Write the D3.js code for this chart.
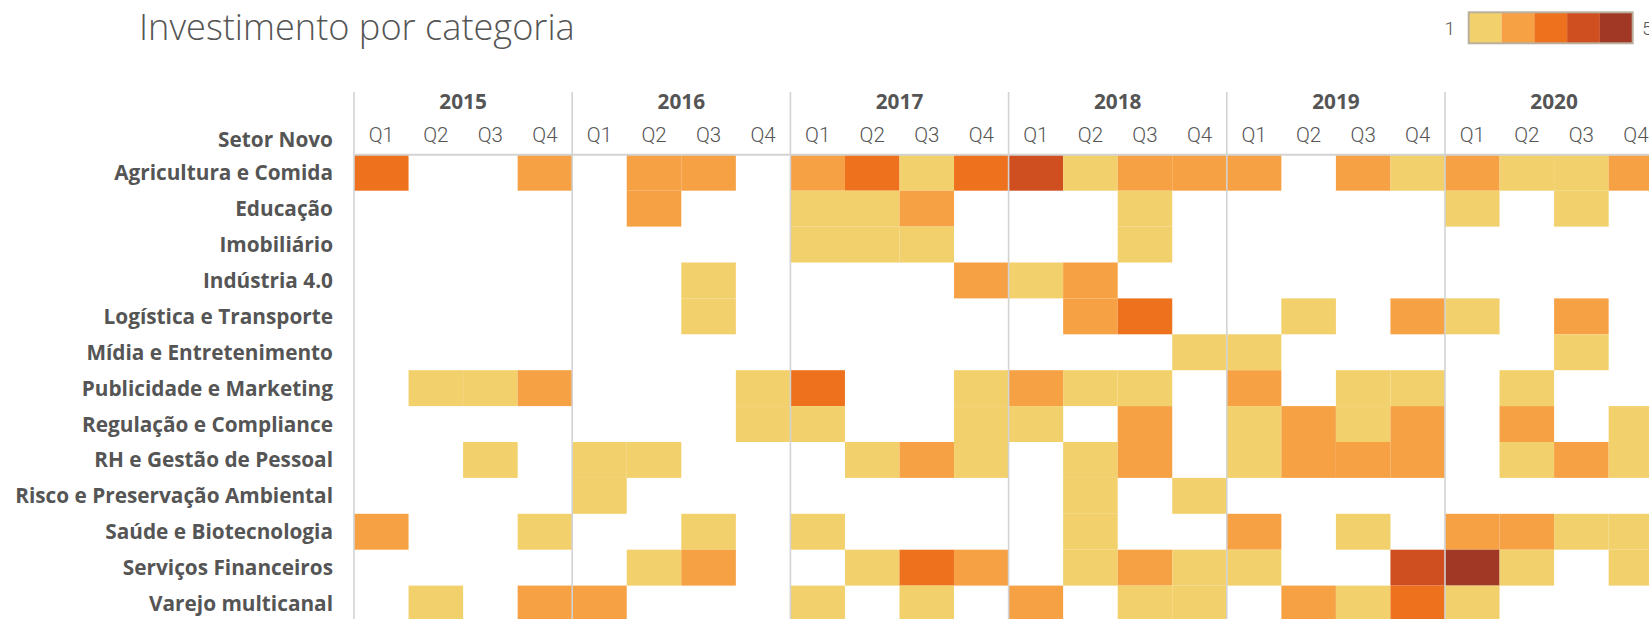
<!DOCTYPE html>
<html><head><meta charset="utf-8">
<script src="https://cdn.jsdelivr.net/npm/d3@7"></script>
<style>
html,body{margin:0;padding:0;background:#fff;overflow:hidden;}
svg{display:block;}
</style>
</head><body>
<script>
const title = "Investimento por categoria";
const rowHeader = "Setor Novo";
const years = ["2015","2016","2017","2018","2019","2020"];
const quarters = ["Q1","Q2","Q3","Q4"];
const categories = [
  "Agricultura e Comida","Educação","Imobiliário","Indústria 4.0",
  "Logística e Transporte","Mídia e Entretenimento","Publicidade e Marketing",
  "Regulação e Compliance","RH e Gestão de Pessoal","Risco e Preservação Ambiental",
  "Saúde e Biotecnologia","Serviços Financeiros","Varejo multicanal"
];
// one row per category, 24 quarters 2015Q1..2020Q4, 0 = no investment
const values = [
  [3,0,0,2, 0,2,2,0, 2,3,1,3, 4,1,2,2, 2,0,2,1, 2,1,1,2],
  [0,0,0,0, 0,2,0,0, 1,1,2,0, 0,0,1,0, 0,0,0,0, 1,0,1,0],
  [0,0,0,0, 0,0,0,0, 1,1,1,0, 0,0,1,0, 0,0,0,0, 0,0,0,0],
  [0,0,0,0, 0,0,1,0, 0,0,0,2, 1,2,0,0, 0,0,0,0, 0,0,0,0],
  [0,0,0,0, 0,0,1,0, 0,0,0,0, 0,2,3,0, 0,1,0,2, 1,0,2,0],
  [0,0,0,0, 0,0,0,0, 0,0,0,0, 0,0,0,1, 1,0,0,0, 0,0,1,0],
  [0,1,1,2, 0,0,0,1, 3,0,0,1, 2,1,1,0, 2,0,1,1, 0,1,0,0],
  [0,0,0,0, 0,0,0,1, 1,0,0,1, 1,0,2,0, 1,2,1,2, 0,2,0,1],
  [0,0,1,0, 1,1,0,0, 0,1,2,1, 0,1,2,0, 1,2,2,2, 0,1,2,1],
  [0,0,0,0, 1,0,0,0, 0,0,0,0, 0,1,0,1, 0,0,0,0, 0,0,0,0],
  [2,0,0,1, 0,0,1,0, 1,0,0,0, 0,1,0,0, 2,0,1,0, 2,2,1,1],
  [0,0,0,0, 0,1,2,0, 0,1,3,2, 0,1,2,1, 1,0,0,4, 5,1,0,1],
  [0,1,0,2, 2,0,0,0, 1,0,1,0, 2,0,1,1, 0,2,1,3, 1,0,0,0]
];
const legendLevels = [1,2,3,4,5];
const palette = ["#f2d06b","#f7a145","#ee711e","#cf4f20","#a13826"];

const W = 1649, H = 619;
const leftX = 354, topY = 154.8;
const cellW = 54.55, cellH = 35.9;
const labelRight = 333;
const textColor = "#555555";
const gridColor = "#d3d3d3";
const boldFont = "Open Sans";
const lightFont = "Open Sans";

const cols = [];
years.forEach(yr => quarters.forEach(q => cols.push(yr + "-" + q)));

const x = d3.scaleBand().domain(cols).range([leftX, leftX + cellW * cols.length]).padding(0);
const y = d3.scaleBand().domain(categories).range([topY, topY + cellH * categories.length]).padding(0);
const color = d3.scaleOrdinal().domain(legendLevels).range(palette);

const svg = d3.select("body").append("svg").attr("width", W).attr("height", H);

// measure helper: font size that gives a target width
function fitSize(txt, family, weight, base, target) {
  const t = svg.append("text").attr("font-family", family).attr("font-weight", weight)
    .attr("font-size", base).text(txt);
  const w = t.node().getComputedTextLength();
  t.remove();
  return w > 0 ? base * target / w : base;
}
const labelSize = fitSize("Risco e Preservação Ambiental", boldFont, 700, 20, 318);
const titleSize = fitSize(title, lightFont, 300, 34, 436);

// cells
const cells = [];
categories.forEach((c, i) => values[i].forEach((v, j) => { if (v > 0) cells.push({c, col: cols[j], v}); }));
svg.append("g").selectAll("rect").data(cells).join("rect")
  .attr("x", d => x(d.col)).attr("y", d => y(d.c))
  .attr("width", x.bandwidth()).attr("height", y.bandwidth())
  .attr("fill", d => color(d.v));

// grid: year separators
svg.append("g").selectAll("line").data(years).join("line")
  .attr("x1", d => x(d + "-Q1")).attr("x2", d => x(d + "-Q1"))
  .attr("y1", 92).attr("y2", H)
  .attr("stroke", gridColor).attr("stroke-width", 1.6);
// header line
svg.append("line").attr("x1", leftX).attr("x2", W).attr("y1", topY).attr("y2", topY)
  .attr("stroke", gridColor).attr("stroke-width", 2);

// year labels
svg.append("g").selectAll("text").data(years).join("text")
  .attr("x", d => x(d + "-Q1") + x.bandwidth() * 2)
  .attr("y", 109.3)
  .attr("text-anchor", "middle")
  .attr("font-family", boldFont).attr("font-weight", 700).attr("font-size", labelSize)
  .attr("fill", textColor).text(d => d);

// quarter labels
svg.append("g").selectAll("text").data(cols).join("text")
  .attr("x", d => x(d) + x.bandwidth() / 2)
  .attr("y", 141.7)
  .attr("text-anchor", "middle")
  .attr("font-family", "Roboto").attr("font-weight", 300).attr("font-size", 20.5)
  .attr("fill", textColor).text(d => d.split("-")[1]);

// row header
svg.append("text").attr("x", labelRight).attr("y", 146.5).attr("text-anchor", "end")
  .attr("font-family", boldFont).attr("font-weight", 700).attr("font-size", labelSize)
  .attr("fill", textColor).text(rowHeader);

// row labels
svg.append("g").selectAll("text").data(categories).join("text")
  .attr("x", labelRight).attr("y", d => y(d) + y.bandwidth() / 2 + labelSize * 0.36)
  .attr("text-anchor", "end")
  .attr("font-family", boldFont).attr("font-weight", 700).attr("font-size", labelSize)
  .attr("fill", textColor).text(d => d);

// title
svg.append("text").attr("x", 139).attr("y", 39.5)
  .attr("font-family", lightFont).attr("font-weight", 300).attr("font-size", titleSize)
  .attr("fill", textColor).text(title);

// legend
const lg = svg.append("g");
const lx = d3.scaleBand().domain(legendLevels).range([1468.7, 1632.7]);
lg.selectAll("rect").data(legendLevels).join("rect")
  .attr("x", d => lx(d)).attr("y", 12.3).attr("width", lx.bandwidth()).attr("height", 31)
  .attr("fill", d => color(d));
lg.append("rect").attr("x", 1468.7).attr("y", 12.3).attr("width", 164).attr("height", 31)
  .attr("fill", "none").attr("stroke", "#bbb09d").attr("stroke-width", 2);
lg.append("text").attr("x", 1455).attr("y", 35).attr("text-anchor", "end")
  .attr("font-family", "Roboto").attr("font-weight", 300).attr("font-size", 19)
  .attr("fill", textColor).text(legendLevels[0]);
lg.append("text").attr("x", 1642).attr("y", 35)
  .attr("font-family", "Roboto").attr("font-weight", 300).attr("font-size", 19)
  .attr("fill", textColor).text(legendLevels[legendLevels.length - 1]);
</script>
</body></html>
